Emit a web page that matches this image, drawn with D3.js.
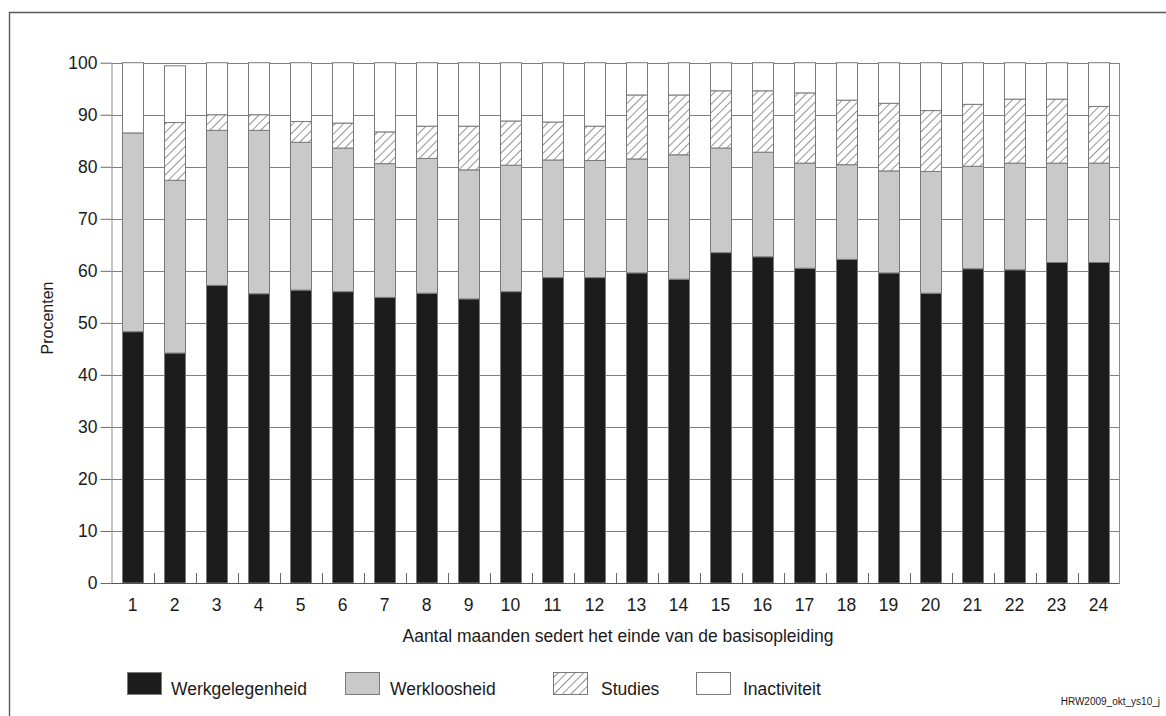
<!DOCTYPE html>
<html>
<head>
<meta charset="utf-8">
<script src="https://cdn.jsdelivr.net/npm/d3@7"></script>
<style>
  html, body { margin: 0; padding: 0; background: #fff; }
  svg { display: block; }
  text { font-family: "Liberation Sans", Arial, Helvetica, sans-serif; fill: #1a1a1a; }
</style>
</head>
<body>
<svg id="chart" width="1166" height="716"></svg>
<script>
// ---- Data (percent per month after end of basic education) ----
const months = ["1","2","3","4","5","6","7","8","9","10","11","12","13","14","15","16","17","18","19","20","21","22","23","24"];
const werkgelegenheid = [48.3,44.2,57.2,55.6,56.3,56.0,54.9,55.7,54.6,56.0,58.7,58.7,59.6,58.4,63.5,62.7,60.5,62.2,59.6,55.7,60.4,60.2,61.6,61.6];
const werkloosheid    = [38.2,33.2,29.8,31.4,28.4,27.6,25.7,25.9,24.8,24.3,22.6,22.5,21.9,23.9,20.1,20.1,20.2,18.2,19.6,23.4,19.7,20.5,19.1,19.1];
const studies         = [0.0,11.1,3.0,3.0,4.0,4.8,6.1,6.2,8.4,8.5,7.3,6.6,12.3,11.5,11.0,11.8,13.5,12.4,13.0,11.7,11.9,12.3,12.3,10.9];
const inactiviteit    = [13.5,10.9,10.0,10.0,11.3,11.6,13.3,12.2,12.2,11.2,11.4,12.2,6.2,6.2,5.4,5.4,5.8,7.2,7.8,9.2,8.0,7.0,7.0,8.4];
const yTicks = [0,10,20,30,40,50,60,70,80,90,100];
const seriesNames = ["Werkgelegenheid","Werkloosheid","Studies","Inactiviteit"];
const xTitle = "Aantal maanden sedert het einde van de basisopleiding";
const yTitle = "Procenten";
const sourceNote = "HRW2009_okt_ys10_j";

// ---- Layout ----
const svg = d3.select("#chart");
const pLeft = 111.5, pRight = 1119.5, pTop = 62.7, pBottom = 583;
const fills = {
  "Werkgelegenheid": "#1c1c1c",
  "Werkloosheid": "#c9c9c9",
  "Studies": "url(#hatch)",
  "Inactiviteit": "#ffffff"
};
const stroke = "#7a7a7a";

// hatch pattern
const defs = svg.append("defs");
const pat = defs.append("pattern")
  .attr("id", "hatch").attr("patternUnits", "userSpaceOnUse")
  .attr("width", 6).attr("height", 6)
  .attr("patternTransform", "rotate(45)");
pat.append("rect").attr("width", 6).attr("height", 6).attr("fill", "#fff");
pat.append("line").attr("x1", 0).attr("y1", 0).attr("x2", 0).attr("y2", 6)
  .attr("stroke", "#3a3a3a").attr("stroke-width", 1.1);

// outer frame
svg.append("path")
  .attr("d", "M9.5,716 L9.5,12.5 L1166,12.5")
  .attr("fill", "none").attr("stroke", "#5a5a5a").attr("stroke-width", 1.4);

const x = d3.scaleBand().domain(months).range([pLeft, pRight]).paddingInner(0.5).paddingOuter(0.25);
const y = d3.scaleLinear().domain([0, 100]).range([pBottom, pTop]);

// gridlines
svg.append("g").selectAll("line").data(yTicks).join("line")
  .attr("x1", pLeft).attr("x2", pRight)
  .attr("y1", d => Math.round(y(d)) + 0.5).attr("y2", d => Math.round(y(d)) + 0.5)
  .attr("stroke", "#808080").attr("stroke-width", 1);

// right border
svg.append("line").attr("x1", pRight).attr("x2", pRight).attr("y1", y(100)).attr("y2", y(0))
  .attr("stroke", "#8a8a8a").attr("stroke-width", 1);

// stacked data
const rows = months.map((m, i) => ({
  month: m,
  "Werkgelegenheid": werkgelegenheid[i],
  "Werkloosheid": werkloosheid[i],
  "Studies": studies[i],
  "Inactiviteit": inactiviteit[i]
}));
const stacked = d3.stack().keys(seriesNames)(rows);

svg.append("g").selectAll("g").data(stacked).join("g")
  .attr("fill", d => fills[d.key])
  .selectAll("rect").data(d => d.filter(s => s[1] - s[0] > 0)).join("rect")
  .attr("x", d => Math.round(x(d.data.month)) + 0.5)
  .attr("width", Math.round(x.bandwidth()))
  .attr("y", d => y(d[1]))
  .attr("height", d => y(d[0]) - y(d[1]))
  .attr("stroke", stroke).attr("stroke-width", 1);

// y axis
const yAxis = d3.axisLeft(y).tickValues(yTicks).tickSize(11).tickPadding(3);
const yg = svg.append("g").attr("transform", `translate(${pLeft},0)`).call(yAxis);
yg.attr("font-family", null).attr("font-size", null);
yg.select(".domain").attr("stroke", "#8a8a8a").attr("d", `M0.5,${y(100)}V${y(0)}`);
yg.selectAll(".tick line").attr("stroke", "#6a6a6a");
yg.selectAll(".tick text").attr("font-size", 17.5).attr("fill", "#1a1a1a");

// x axis labels
const xAxis = d3.axisBottom(x).tickSize(0).tickPadding(16);
const xg = svg.append("g").attr("transform", `translate(0,${pBottom})`).call(xAxis);
xg.attr("font-family", null).attr("font-size", null);
xg.select(".domain").remove();
xg.selectAll(".tick text").attr("font-size", 17.5).attr("fill", "#1a1a1a");

// category boundary ticks (pointing up from baseline)
const step = x.step();
const boundaries = months.slice(1).map(m => x(m) - step * x.paddingInner() / 2);
svg.append("g").selectAll("line").data(boundaries).join("line")
  .attr("x1", d => Math.round(d) + 0.5).attr("x2", d => Math.round(d) + 0.5)
  .attr("y1", pBottom).attr("y2", pBottom - 10)
  .attr("stroke", "#6a6a6a").attr("stroke-width", 1);

// baseline
svg.append("line").attr("x1", pLeft).attr("x2", pRight)
  .attr("y1", Math.round(y(0)) + 0.5).attr("y2", Math.round(y(0)) + 0.5)
  .attr("stroke", "#555").attr("stroke-width", 1.2);

// titles
svg.append("text").attr("x", 618).attr("y", 642).attr("text-anchor", "middle")
  .attr("font-size", 17.5).text(xTitle);
svg.append("text").attr("transform", `translate(53,318) rotate(-90)`)
  .attr("text-anchor", "middle").attr("font-size", 16).text(yTitle);

// legend
const legendBoxX = [127, 345, 553, 696];
const legendTextX = [171, 390, 601, 743];
const legend = svg.append("g").selectAll("g").data(seriesNames).join("g");
legend.append("rect")
  .attr("x", (d, i) => legendBoxX[i] + 0.5).attr("y", 672.5)
  .attr("width", 34).attr("height", 22)
  .attr("fill", d => fills[d]).attr("stroke", stroke).attr("stroke-width", 1);
legend.append("text")
  .attr("x", (d, i) => legendTextX[i]).attr("y", 695)
  .attr("font-size", 17.5).text(d => d);

// source note
svg.append("text").attr("x", 1160).attr("y", 705).attr("text-anchor", "end")
  .attr("font-size", 10).attr("fill", "#333")
  .text(sourceNote);
</script>
</body>
</html>
